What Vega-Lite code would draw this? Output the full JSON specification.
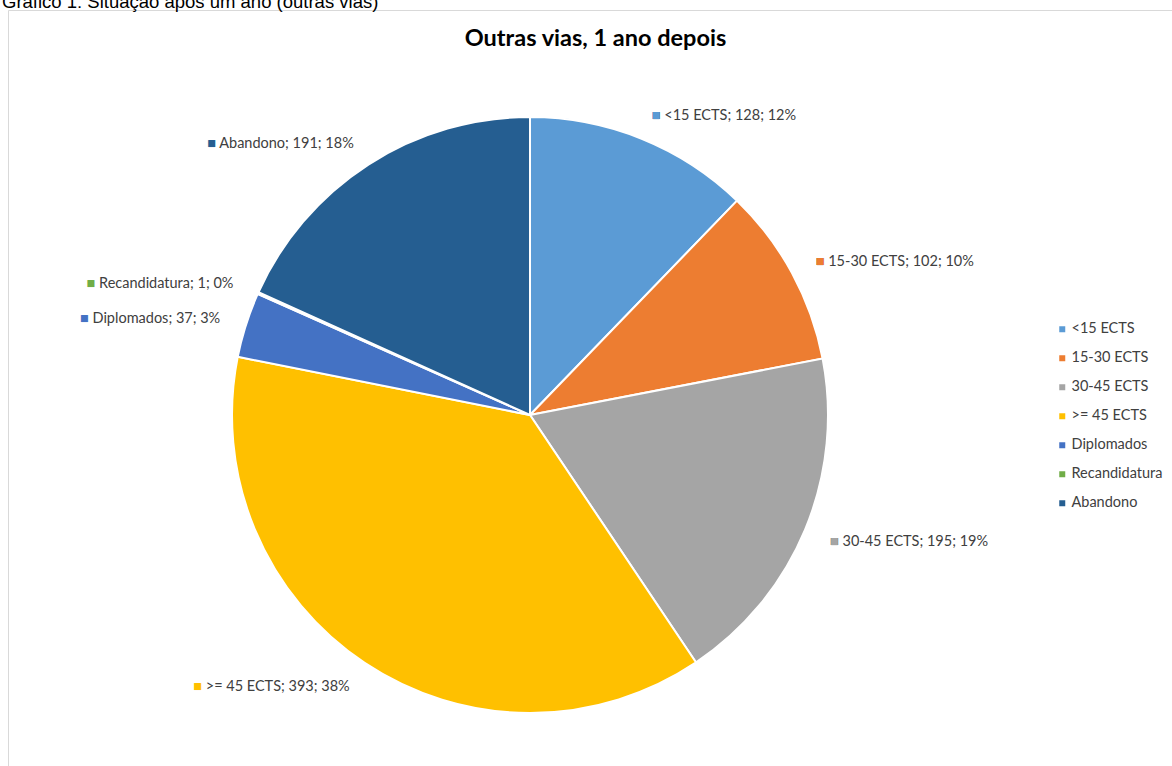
{
  "$schema": "https://vega.github.io/schema/vega-lite/v6.json",
  "autosize": {"type": "none"},
  "padding": {"left": 8, "top": 10, "right": 0, "bottom": 0},
  "width": 1164,
  "height": 756,
  "background": "white",
  "title": {
    "text": "Gráfico 1: Situação após um ano (outras vias)",
    "anchor": "start",
    "frame": "group",
    "font": "Liberation Sans",
    "fontSize": 18.5,
    "fontWeight": "normal",
    "color": "#000000",
    "offset": 0,
    "dx": -6,
    "dy": 1
  },
  "data": {
    "values": [
      {"cat": "<15 ECTS", "n": 128, "pct": 12},
      {"cat": "15-30 ECTS", "n": 102, "pct": 10},
      {"cat": "30-45 ECTS", "n": 195, "pct": 19},
      {"cat": ">= 45 ECTS", "n": 393, "pct": 38},
      {"cat": "Diplomados", "n": 37, "pct": 3},
      {"cat": "Recandidatura", "n": 1, "pct": 0},
      {"cat": "Abandono", "n": 191, "pct": 18}
    ]
  },
  "transform": [
    {"window": [{"op": "row_number", "as": "idx"}]},
    {"stack": "n", "groupby": [], "sort": [{"field": "idx", "order": "ascending"}], "as": ["s0", "s1"]},
    {"joinaggregate": [{"op": "sum", "field": "n", "as": "total"}]},
    {"calculate": "(datum.s0 + datum.s1) / 2", "as": "mid"},
    {"calculate": "datum.cat + '; ' + datum.n + '; ' + datum.pct + '%'", "as": "lab"},
    {"calculate": "'\u25a0  ' + datum.lab", "as": "full"},
    {"calculate": "datum.mid > datum.total / 2 ? 'L' : 'R'", "as": "side"}
  ],
  "encoding": {
    "x": {
      "datum": 522,
      "type": "quantitative",
      "scale": {"domain": [0, 1164], "nice": false, "zero": false},
      "axis": {
        "orient": "top",
        "domain": true,
        "domainColor": "#d9d9d9",
        "domainWidth": 1,
        "ticks": false,
        "labels": false,
        "grid": false,
        "title": "Outras vias, 1 ano depois",
        "titleFont": "Lato",
        "titleFontSize": 23.5,
        "titleFontWeight": "bold",
        "titleColor": "#000000",
        "titleX": 587,
        "titleY": 35,
        "titleBaseline": "alphabetic",
        "titleAlign": "center"
      }
    },
    "y": {
      "datum": 405,
      "type": "quantitative",
      "scale": {"domain": [0, 756], "nice": false, "zero": false, "reverse": true},
      "axis": {
        "orient": "left",
        "domain": true,
        "domainColor": "#d9d9d9",
        "domainWidth": 1,
        "ticks": false,
        "labels": false,
        "grid": false,
        "title": null
      }
    }
  },
  "layer": [
    {
      "mark": {"type": "arc", "outerRadius": 298, "stroke": "white", "strokeWidth": 2},
      "encoding": {
        "theta": {"field": "n", "type": "quantitative", "stack": true},
        "order": {"field": "idx", "type": "quantitative", "sort": "ascending"},
        "color": {
          "field": "cat",
          "type": "nominal",
          "scale": {
            "domain": ["<15 ECTS", "15-30 ECTS", "30-45 ECTS", ">= 45 ECTS", "Diplomados", "Recandidatura", "Abandono"],
            "range": ["#5B9BD5", "#ED7D31", "#A5A5A5", "#FFC000", "#4472C4", "#70AD47", "#255E91"]
          },
          "legend": {
            "orient": "none",
            "legendX": 1047,
            "legendY": 312,
            "title": null,
            "symbolType": "square",
            "symbolSize": 36,
            "symbolStrokeWidth": 0,
            "labelFont": "Lato",
            "labelFontSize": 14.5,
            "labelColor": "#404040",
            "rowPadding": 14,
            "labelOffset": 2
          }
        }
      }
    },
    {
      "transform": [{"filter": "datum.side == 'R'"}],
      "mark": {"type": "text", "radius": 325, "align": "left", "baseline": "middle", "dy": 2, "font": "Lato, Liberation Sans", "fontSize": 14.5, "fill": "#404040"},
      "encoding": {
        "theta": {"field": "mid", "type": "quantitative", "stack": null},
        "text": {"field": "full"}
      }
    },
    {
      "transform": [{"filter": "datum.side == 'R'"}],
      "mark": {"type": "text", "radius": 325, "align": "left", "baseline": "middle", "dy": 2, "font": "Lato, Liberation Sans", "fontSize": 14.5, "text": "\u25a0"},
      "encoding": {
        "theta": {"field": "mid", "type": "quantitative", "stack": null},
        "color": {"field": "cat", "type": "nominal", "legend": null}
      }
    },
    {
      "transform": [{"filter": "datum.side == 'L'"}],
      "mark": {"type": "text", "radius": 325, "align": "right", "baseline": "middle", "dy": 2, "font": "Lato, Liberation Sans", "fontSize": 14.5},
      "encoding": {
        "theta": {"field": "mid", "type": "quantitative", "stack": null},
        "text": {"field": "full"},
        "color": {"field": "cat", "type": "nominal", "legend": null}
      }
    },
    {
      "transform": [{"filter": "datum.side == 'L'"}],
      "mark": {"type": "text", "radius": 325, "align": "right", "baseline": "middle", "dy": 2, "font": "Lato, Liberation Sans", "fontSize": 14.5, "fill": "white", "stroke": "white", "strokeWidth": 3},
      "encoding": {
        "theta": {"field": "mid", "type": "quantitative", "stack": null},
        "text": {"field": "lab"}
      }
    },
    {
      "transform": [{"filter": "datum.side == 'L'"}],
      "mark": {"type": "text", "radius": 325, "align": "right", "baseline": "middle", "dy": 2, "font": "Lato, Liberation Sans", "fontSize": 14.5, "fill": "#404040"},
      "encoding": {
        "theta": {"field": "mid", "type": "quantitative", "stack": null},
        "text": {"field": "lab"}
      }
    }
  ],
  "config": {"view": {"stroke": null}}
}
